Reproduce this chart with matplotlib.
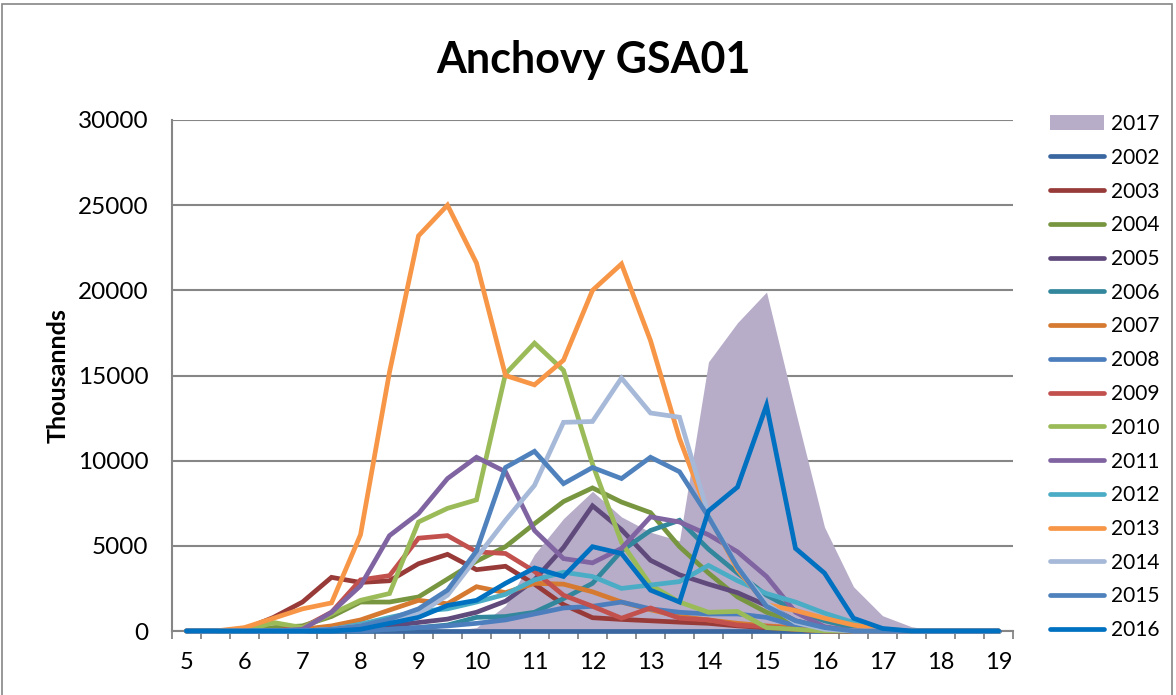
import matplotlib
matplotlib.use("Agg")
import matplotlib.pyplot as plt
from matplotlib.patches import Patch, Rectangle

plt.rcParams["font.family"] = ["Lato", "DejaVu Sans"]

# length classes (cm)
sizes = [5, 5.5, 6, 6.5, 7, 7.5, 8, 8.5, 9, 9.5, 10, 10.5, 11, 11.5, 12,
         12.5, 13, 13.5, 14, 14.5, 15, 15.5, 16, 16.5, 17, 17.5, 18, 18.5, 19]

y2017 = [0, 0, 0, 0, 0, 0, 0, 0, 0, 0, 200, 1500, 4500, 6600, 8200, 6700, 5800, 5300,
         15800, 18100, 19900, 12900, 6100, 2600, 900, 250, 0, 0, 0]
y2002 = [0] * 29
y2003 = [0, 0, 100, 800, 1700, 3150, 2850, 2950, 3950, 4500, 3600, 3800, 2750, 1550, 780,
         680, 600, 520, 450, 300, 200, 100, 0, 0, 0, 0, 0, 0, 0]
y2004 = [0, 0, 0, 200, 300, 850, 1700, 1700, 2000, 3050, 4100, 4950, 6300, 7600, 8400,
         7570, 6950, 4950, 3400, 2000, 1100, 500, 200, 0, 0, 0, 0, 0, 0]
y2005 = [0, 0, 0, 0, 0, 100, 200, 300, 500, 700, 1100, 1750, 3000, 4900, 7350,
         5950, 4150, 3300, 2750, 2250, 1500, 600, 200, 0, 0, 0, 0, 0, 0]
y2006 = [0, 0, 0, 0, 0, 0, 0, 100, 200, 350, 800, 850, 1100, 1900, 2800,
         4700, 5900, 6500, 4800, 3400, 2100, 1200, 600, 200, 0, 0, 0, 0, 0]
y2007 = [0, 0, 0, 0, 100, 300, 650, 1230, 1800, 1600, 2600, 2250, 2800, 2750, 2300,
         1700, 1250, 850, 650, 450, 300, 200, 100, 0, 0, 0, 0, 0, 0]
y2008 = [0, 0, 0, 0, 0, 0, 0, 100, 200, 300, 450, 650, 1000, 1350, 1450,
         1700, 1300, 1100, 1000, 1000, 800, 300, 100, 0, 0, 0, 0, 0, 0]
y2009 = [0, 0, 0, 0, 200, 1100, 3000, 3250, 5450, 5600, 4650, 4550, 3500, 2100, 1450,
         750, 1350, 750, 650, 350, 250, 100, 0, 0, 0, 0, 0, 0, 0]
y2010 = [0, 0, 0, 500, 200, 1000, 1800, 2200, 6400, 7200, 7700, 15100, 16900, 15300, 9800,
         5200, 2700, 1700, 1100, 1150, 200, 100, 0, 0, 0, 0, 0, 0, 0]
y2011 = [0, 0, 0, 0, 100, 1100, 2650, 5600, 6900, 8950, 10200, 9350, 5900, 4250, 4000,
         4850, 6700, 6400, 5650, 4650, 3200, 1100, 250, 0, 0, 0, 0, 0, 0]
y2012 = [0, 0, 0, 0, 0, 100, 400, 800, 1150, 1300, 1700, 2150, 3000, 3450, 3200,
         2500, 2700, 2900, 3850, 2950, 2200, 1700, 1050, 500, 100, 0, 0, 0, 0]
y2013 = [0, 0, 200, 750, 1300, 1650, 5650, 15200, 23200, 25000, 21600, 15000, 14450, 15900, 20000,
         21550, 17050, 11300, 6800, 3600, 1550, 1200, 750, 350, 100, 0, 0, 0, 0]
y2014 = [0, 0, 0, 0, 0, 100, 300, 600, 1000, 2100, 4300, 6500, 8550, 12250, 12300,
         14850, 12800, 12550, 6800, 3800, 1600, 500, 100, 0, 0, 0, 0, 0, 0]
y2015 = [0, 0, 0, 0, 0, 100, 300, 700, 1300, 2400, 4700, 9600, 10550, 8650, 9600,
         8950, 10200, 9350, 6700, 3750, 1450, 600, 200, 0, 0, 0, 0, 0, 0]
y2016 = [0, 0, 0, 0, 0, 0, 100, 450, 800, 1500, 1800, 2800, 3700, 3200, 4950,
         4550, 2400, 1700, 7050, 8450, 13250, 4850, 3400, 750, 150, 0, 0, 0, 0]

years = ["2002", "2003", "2004", "2005", "2006", "2007", "2008", "2009",
         "2010", "2011", "2012", "2013", "2014", "2015", "2016"]
series = [y2002, y2003, y2004, y2005, y2006, y2007, y2008, y2009,
          y2010, y2011, y2012, y2013, y2014, y2015, y2016]
colors = ["#3b67a0", "#973a38", "#789640", "#604a7c", "#32879d", "#d57a30",
          "#4c7ebd", "#c2504d", "#9bbb59", "#8064a2", "#4bacc6", "#f79646",
          "#a6b9d8", "#4f81bd", "#0070c0"]

fig = plt.figure(figsize=(11.76, 6.95), dpi=100)
ax = fig.add_axes([172 / 1176, 1 - 631 / 695, (1013 - 172) / 1176, (631 - 120) / 695])

ax.fill_between(sizes, y2017, 0, color="#b7adc9", lw=0, zorder=1)
handles = [Patch(facecolor="#b7adc9", edgecolor="none")]
for ys, c in zip(series, colors):
    ln, = ax.plot(sizes, ys, color=c, lw=3.4, solid_joinstyle="miter",
                  solid_capstyle="round", clip_on=False, zorder=3)
    handles.append(ln)

ax.set_xlim(4.75, 19.25)
ax.set_ylim(0, 30000)
ax.set_yticks(range(0, 30001, 5000))
ax.set_xticks(range(5, 20))
ax.set_xticks([v + 0.25 for v in sizes[:-1]] + [4.75, 19.25], minor=True)
ax.tick_params(axis="x", which="major", length=0, pad=15, labelsize=17)
ax.tick_params(axis="x", which="minor", length=6, width=1.3, color="#868686")
ax.tick_params(axis="y", length=0, pad=17, labelsize=17.5)
ax.grid(axis="y", color="#868686", lw=1.5, zorder=0)
ax.set_axisbelow(True)
for s in ["top", "right"]:
    ax.spines[s].set_visible(False)
for s in ["left", "bottom"]:
    ax.spines[s].set_color("#868686")
    ax.spines[s].set_linewidth(1.5)

ax.set_ylabel("Thousannds", fontsize=18, fontweight="bold", labelpad=6)
fig.text(593 / 1176, 1 - 60 / 695, "Anchovy GSA01", ha="center", va="center",
         fontsize=31, fontweight="bold")

fig.legend(handles, ["2017"] + years, loc="upper left",
           bbox_to_anchor=(1050 / 1176, 1 - 114 / 695), frameon=False,
           fontsize=15, handlelength=2.6, handletextpad=0.35,
           labelspacing=0.66, borderaxespad=0, borderpad=0)

fig.patches.append(Rectangle((0.002, -0.01), 0.995, 1.004, transform=fig.transFigure,
                             fill=False, edgecolor="#868686", lw=1.2))

fig.savefig("out.png", dpi=100)
